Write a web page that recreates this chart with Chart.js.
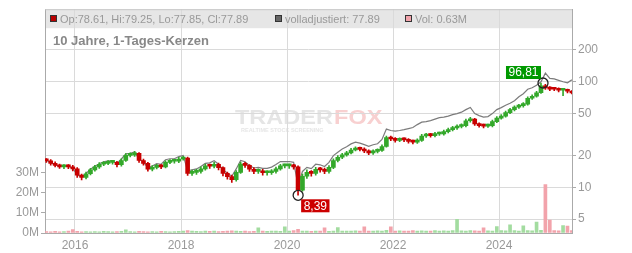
<!DOCTYPE html>
<html>
<head>
<meta charset="utf-8">
<script src="https://cdn.jsdelivr.net/npm/chart.js@4.4.1/dist/chart.umd.min.js"></script>
<style>
  html, body { margin: 0; padding: 0; background: #fff; }
</style>
</head>
<body>
<canvas id="chart" width="632" height="253"></canvas>
<script>
'use strict';

// ***** DATA (monthly candles, starting mid June 2015) *****
const firstMonth = 2015 + 5.5 / 12;

const closes = [
  17.8, 16.8, 16.1, 15.6, 15.8, 15.6, 14.9, 13.0, 12.4, 13.4, 14.6, 15.6,
  16.5, 16.8, 17.2, 17.2, 16.3, 17.9, 20.0, 20.2, 20.9, 17.9, 16.8, 14.8,
  15.4, 15.8, 15.6, 17.2, 17.6, 17.6, 18.5, 18.9, 13.5, 13.8, 14.1, 14.9,
  15.9, 15.8, 16.5, 15.3, 13.5, 12.6, 11.8, 13.8, 16.6, 16.1, 14.8, 14.1,
  14.3, 13.7, 13.7, 14.1, 14.9, 15.9, 15.9, 15.9, 15.6, 9.4, 12.7, 13.8,
  13.5, 14.8, 14.6, 14.1, 15.4, 17.9, 19.2, 20.2, 21.1, 22.5, 23.3, 22.8,
  22.0, 21.1, 21.8, 22.3, 24.3, 29.5, 28.6, 27.7, 28.3, 28.0, 27.1, 26.7,
  27.7, 30.5, 31.2, 30.8, 31.9, 32.0, 33.6, 35.1, 36.3, 37.5, 38.3, 42.5,
  44.1, 39.6, 38.3, 37.8, 38.2, 41.8, 45.1, 47.1, 50.8, 54.2, 57.2, 59.1,
  61.0, 69.5, 72.6, 78.3, 91.1, 87.2, 84.8, 84.5, 82.6, 82.6, 80.9, 77.9
];
const firstOpen = 18.1;

const highs = [
  18.7, 18.3, 17.4, 16.6, 16.4, 16.4, 16.1, 15.3, 13.3, 13.9, 15.1, 16.1,
  17.1, 17.5, 17.9, 17.9, 17.6, 18.6, 20.8, 21.1, 21.8, 21.3, 18.5, 17.2,
  16.0, 16.5, 16.4, 17.8, 18.3, 18.3, 19.2, 19.6, 19.3, 14.5, 14.8, 15.6,
  16.6, 16.6, 17.2, 16.9, 15.6, 13.9, 13.0, 14.4, 17.3, 17.2, 16.4, 15.3,
  14.9, 14.8, 14.3, 14.7, 15.5, 16.5, 16.6, 16.6, 16.5, 15.9, 13.3, 14.6,
  14.4, 15.4, 15.4, 15.2, 16.0, 18.6, 19.9, 20.9, 21.9, 23.3, 24.1, 24.0,
  23.6, 22.6, 22.6, 23.1, 25.2, 30.5, 30.4, 29.5, 29.3, 29.3, 28.8, 27.9,
  28.7, 31.6, 32.3, 32.3, 33.0, 33.2, 34.8, 36.3, 37.6, 38.9, 39.7, 44.0,
  45.8, 44.9, 40.6, 39.5, 39.6, 43.2, 46.6, 48.7, 52.5, 55.9, 58.9, 60.9,
  63.2, 71.6, 75.0, 80.8, 96.81, 94.0, 89.5, 87.6, 86.9, 85.5, 84.6, 82.0
];

const lows = [
  17.2, 16.2, 15.6, 15.1, 15.0, 15.0, 14.3, 12.4, 11.7, 12.0, 13.1, 14.2,
  15.1, 16.0, 16.3, 16.5, 15.6, 15.8, 17.5, 19.3, 19.6, 17.2, 16.2, 14.2,
  14.3, 14.9, 15.0, 15.2, 16.7, 16.9, 17.1, 18.0, 12.9, 12.9, 13.2, 13.6,
  14.5, 15.1, 15.2, 14.6, 12.8, 11.9, 11.1, 11.4, 13.5, 15.4, 14.1, 13.4,
  13.5, 13.0, 13.0, 13.2, 13.6, 14.5, 15.2, 15.1, 14.8, 8.39, 9.2, 12.1,
  12.7, 13.0, 13.9, 13.4, 13.6, 15.0, 17.4, 18.6, 19.7, 20.6, 22.0, 22.0,
  21.2, 20.3, 20.4, 21.1, 21.8, 23.9, 27.6, 26.7, 26.9, 27.0, 26.1, 25.7,
  25.9, 27.1, 29.6, 29.8, 29.9, 30.9, 31.1, 32.6, 34.1, 35.2, 36.4, 37.2,
  41.2, 38.4, 37.0, 36.4, 36.7, 37.2, 40.8, 44.0, 46.0, 49.6, 52.8, 55.6,
  57.3, 59.8, 67.8, 71.0, 77.0, 84.3, 82.0, 81.7, 79.6, 73.4, 77.8, 76.5
];

const adjusted = [
  18.0, 17.0, 16.3, 15.8, 16.0, 15.8, 15.1, 13.1, 12.5, 13.5, 14.8, 15.8,
  16.7, 17.4, 17.8, 17.8, 16.8, 18.5, 20.7, 20.9, 21.6, 18.5, 17.4, 15.3,
  15.9, 16.7, 16.5, 18.2, 18.6, 18.6, 19.5, 20.0, 14.3, 14.6, 14.9, 15.7,
  16.8, 17.0, 17.8, 16.5, 14.6, 13.6, 12.7, 14.9, 17.9, 17.4, 16.0, 15.2,
  15.4, 15.1, 15.1, 15.5, 16.4, 17.5, 17.5, 17.5, 17.2, 10.4, 14.1, 15.4,
  15.0, 16.5, 16.3, 15.7, 17.2, 19.9, 21.4, 23.0, 24.1, 25.7, 26.7, 26.1,
  25.3, 24.4, 25.2, 25.8, 28.3, 35.5, 34.4, 34.0, 34.4, 35.1, 35.9, 36.7,
  39.1, 41.3, 41.8, 42.7, 44.1, 45.6, 46.1, 47.1, 48.6, 49.7, 51.3, 54.2,
  56.9, 49.7, 47.6, 46.1, 46.6, 49.7, 54.2, 56.6, 59.7, 62.3, 65.8, 71.8,
  76.6, 84.5, 87.2, 92.1, 99.4, 120, 107.2, 106.0, 102.6, 99.4, 97.2, 103.7
];

// volume in millions
const volumes = [
  0.7, 0.6, 0.8, 0.6, 0.7, 0.9, 1.7, 0.8, 0.6, 0.7, 0.6, 0.7,
  0.6, 0.8, 0.7, 0.6, 0.7, 0.8, 1.6, 0.7, 0.6, 0.8, 0.7, 0.6,
  0.7, 0.6, 0.8, 0.7, 0.6, 0.7, 0.8, 1.0, 1.2, 0.9, 0.8, 0.7,
  0.9, 0.8, 1.0, 0.7, 0.8, 0.9, 1.1, 0.9, 0.8, 0.9, 0.7, 0.8,
  2.5, 0.9, 0.8, 1.0, 0.9, 0.8, 3.0, 0.9, 1.2, 1.8, 1.0, 0.9,
  0.8, 1.0, 0.9, 2.5, 0.8, 0.9, 2.7, 1.0, 0.9, 1.0, 1.1, 0.9,
  3.0, 1.0, 0.9, 1.1, 1.0, 1.3, 3.1, 1.0, 1.1, 0.9, 1.0, 1.2,
  1.0, 1.1, 0.9, 1.0, 1.2, 1.0, 1.1, 1.0, 1.2, 6.7, 1.1, 1.0,
  1.2, 1.1, 1.0, 2.5, 1.1, 1.0, 3.2, 1.2, 1.1, 4.0, 1.2, 1.0,
  3.5, 1.2, 1.1, 5.4, 1.3, 24, 6.4, 1.2, 1.1, 3.7, 3.4, 1.2
];

const yearTicks = [2016, 2018, 2020, 2022, 2024];
const priceTicks = [5, 10, 20, 50, 100, 200];
const volumeTicks = [0, 10, 20, 30];

const lowDate = 2020.21;
const lowValue = 8.39;
const highDate = 2024.83;
const highValue = 96.81;

const lastOpen = 78.61, lastHigh = 79.25, lastLow = 77.85, lastClose = 77.89;
const lastAdjusted = 77.89;
const lastVolume = 0.63;

// ***** AXIS RANGES *****
const X_MIN = 2015.434;
const X_MAX = 2025.377;
const PRICE_MIN = 3.69;
const PRICE_MAX = 483;
const VOL_MAX = 110.7;

const RED = '#c80000';
const GREEN = '#33a82a';
const FONT = '"Liberation Sans", Arial, sans-serif';

// ***** BUILD DATASETS *****
function monthX(i) {
  return firstMonth + i / 12;
}

let bodyData = [];
let wickData = [];
let candleColors = [];
let volumeData = [];
let volumeColors = [];
let adjustedData = [];

for (let i = 0; i < closes.length; i++) {
  let open = i === 0 ? firstOpen : closes[i - 1];
  let up = closes[i] >= open;
  bodyData.push({ x: monthX(i), y: [open, closes[i]] });
  wickData.push({ x: monthX(i), y: [lows[i], highs[i]] });
  candleColors.push(up ? GREEN : RED);
  volumeData.push({ x: monthX(i), y: volumes[i] });
  volumeColors.push(up ? '#a3dca0' : '#f2a3ab');
  adjustedData.push({ x: monthX(i), y: adjusted[i] });
}

function germanNumber(v) {
  return v.toFixed(2).replace('.', ',');
}

// ***** PLUGIN: header, watermark, labels *****
const overlayPlugin = {
  id: 'overlay',
  beforeDraw(chart) {
    const ctx = chart.ctx;
    const a = chart.chartArea;
    ctx.save();
    ctx.fillStyle = '#fff';
    ctx.fillRect(0, 0, chart.width, chart.height);

    // grey header band
    ctx.fillStyle = '#e6e6e6';
    ctx.fillRect(a.left, a.top, a.right - a.left, 19);

    // watermark
    ctx.save();
    ctx.translate(235, 124);
    ctx.scale(1.12, 1);
    ctx.textBaseline = 'alphabetic';
    ctx.font = 'bold 21px ' + FONT;
    ctx.fillStyle = '#e5e5e5';
    ctx.fillText('TRADER', 0, 0);
    let w = ctx.measureText('TRADER').width;
    ctx.fillStyle = '#f8d0d0';
    ctx.fillText('FOX', w + 1, 0);
    ctx.restore();
    ctx.font = 'bold 5.5px ' + FONT;
    ctx.fillStyle = '#e6e6e6';
    ctx.fillText('REALTIME STOCK SCREENING', 241, 132);
    ctx.restore();
  },
  afterDraw(chart) {
    const ctx = chart.ctx;
    const a = chart.chartArea;
    ctx.save();

    // top frame line
    ctx.strokeStyle = '#c8c8c8';
    ctx.lineWidth = 1;
    ctx.beginPath();
    ctx.moveTo(a.left, a.top + 0.5);
    ctx.lineTo(a.right, a.top + 0.5);
    ctx.stroke();

    // header legend
    ctx.font = '11px ' + FONT;
    ctx.textBaseline = 'alphabetic';
    let items = [
      { x: 50, fill: '#b80000', text: 'Op:' + lastOpen + ', Hi:' + lastHigh + ', Lo:' + lastLow + ', Cl:' + lastClose },
      { x: 275, fill: '#666', text: 'volladjustiert: ' + lastAdjusted },
      { x: 405, fill: '#f2a3ab', text: 'Vol: ' + lastVolume + 'M' }
    ];
    items.forEach(function (it) {
      ctx.fillStyle = it.fill;
      ctx.fillRect(it.x, 15, 7, 7);
      ctx.strokeStyle = '#333';
      ctx.strokeRect(it.x + 0.5, 15.5, 6, 6);
      ctx.fillStyle = '#999';
      ctx.fillText(it.text, it.x + 10, 23);
    });

    // title
    ctx.font = 'bold 13px ' + FONT;
    ctx.fillStyle = '#888';
    ctx.fillText('10 Jahre, 1-Tages-Kerzen', 53, 45);

    // min / max labels
    const meta = chart.getDatasetMeta(4);
    ctx.font = '12px ' + FONT;
    ctx.textAlign = 'center';
    ctx.textBaseline = 'middle';

    let lo = meta.data[0];
    let loText = germanNumber(lowValue);
    let loW = ctx.measureText(loText).width + 5;
    ctx.fillStyle = '#cc0000';
    ctx.fillRect(lo.x + 3, lo.y + 4, loW, 13);
    ctx.fillStyle = '#fff';
    ctx.fillText(loText, lo.x + 3 + loW / 2, lo.y + 11);

    let hi = meta.data[1];
    let hiText = germanNumber(highValue);
    let hiW = ctx.measureText(hiText).width + 5;
    ctx.fillStyle = '#009900';
    ctx.fillRect(hi.x - 2 - hiW, hi.y - 17, hiW, 13);
    ctx.fillStyle = '#fff';
    ctx.fillText(hiText, hi.x - 2 - hiW / 2, hi.y - 10);

    ctx.restore();
  }
};

// ***** CHART *****
const ctx = document.getElementById('chart').getContext('2d');

let myChart = new Chart(ctx, { //eslint-disable-line
  type: 'bar',
  data: {
    datasets: [
      {
        type: 'line',
        label: 'volladjustiert',
        data: adjustedData,
        yAxisID: 'y',
        borderColor: '#7c7c7c',
        borderWidth: 1.2,
        pointRadius: 0,
        tension: 0,
        order: 4
      },
      {
        type: 'bar',
        label: 'Dochte',
        data: wickData,
        yAxisID: 'y',
        backgroundColor: candleColors,
        borderWidth: 0,
        barThickness: 1,
        grouped: false,
        order: 3
      },
      {
        type: 'bar',
        label: 'Kerzen',
        data: bodyData,
        yAxisID: 'y',
        backgroundColor: candleColors,
        borderWidth: 0,
        barThickness: 4,
        minBarLength: 2,
        grouped: false,
        order: 2
      },
      {
        type: 'bar',
        label: 'Vol',
        data: volumeData,
        yAxisID: 'vol',
        backgroundColor: volumeColors,
        borderWidth: 0,
        barThickness: 3,
        grouped: false,
        order: 5
      },
      {
        type: 'scatter',
        label: 'Extrema',
        data: [{ x: lowDate, y: lowValue }, { x: highDate, y: highValue }],
        yAxisID: 'y',
        pointRadius: 5,
        pointBorderColor: '#222',
        pointBackgroundColor: 'rgba(255,255,255,0)',
        pointBorderWidth: 1.3,
        order: 1
      }
    ]
  },
  options: {
    responsive: false,
    animation: false,
    layout: { padding: { top: 8, left: 0, right: 0, bottom: 0 } },
    plugins: {
      legend: { display: false },
      tooltip: { enabled: false }
    },
    scales: {
      x: {
        type: 'linear',
        position: 'bottom',
        min: X_MIN,
        max: X_MAX,
        offset: false,
        afterBuildTicks: function (scale) {
          scale.ticks = yearTicks.map(v => ({ value: v }));
        },
        afterFit: function (scale) {
          scale.height = 20;
        },
        grid: { color: '#dadada', drawTicks: false, offset: false },
        border: { color: '#aaa' },
        ticks: {
          color: '#999',
          font: { family: FONT, size: 12 },
          padding: 5,
          maxRotation: 0,
          callback: v => String(v)
        }
      },
      y: {
        type: 'logarithmic',
        position: 'right',
        min: PRICE_MIN,
        max: PRICE_MAX,
        afterBuildTicks: function (scale) {
          scale.ticks = priceTicks.map(v => ({ value: v }));
        },
        afterFit: function (scale) {
          scale.width = 60;
        },
        grid: { color: '#dadada', tickColor: '#aaa', tickLength: 4 },
        border: { color: '#aaa' },
        ticks: {
          color: '#999',
          font: { family: FONT, size: 12 },
          padding: 2,
          callback: v => String(v)
        }
      },
      vol: {
        type: 'linear',
        position: 'left',
        min: 0,
        max: VOL_MAX,
        afterBuildTicks: function (scale) {
          scale.ticks = volumeTicks.map(v => ({ value: v }));
        },
        afterFit: function (scale) {
          scale.width = 45;
        },
        grid: { drawOnChartArea: false, tickColor: '#aaa', tickLength: 4 },
        border: { color: '#aaa' },
        ticks: {
          color: '#999',
          font: { family: FONT, size: 12 },
          padding: 2,
          callback: v => v + 'M'
        }
      }
    }
  },
  plugins: [overlayPlugin]
});
</script>
</body>
</html>
